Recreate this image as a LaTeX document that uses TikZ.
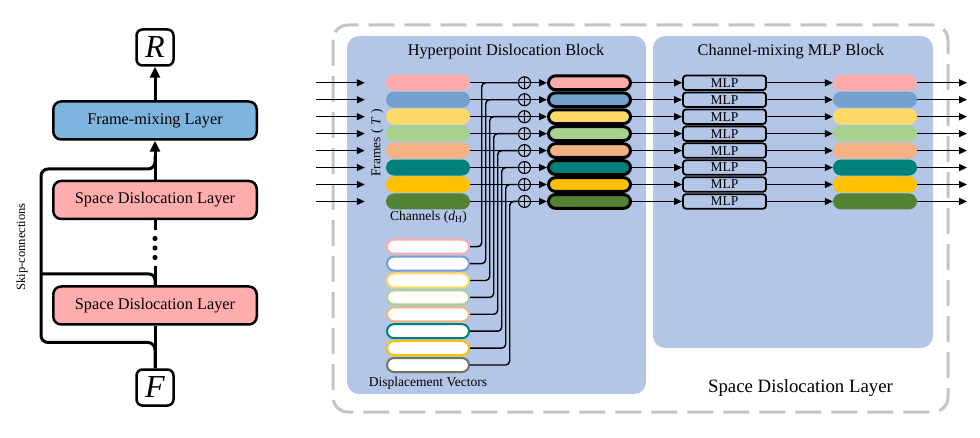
\documentclass[tikz,border=0pt]{standalone}
\usepackage{fontspec}
\setmainfont{Liberation Serif}
\usetikzlibrary{arrows.meta,calc}
\definecolor{blockfill}{HTML}{B4C6E7}
\definecolor{fmfill}{HTML}{7EB5DE}
\definecolor{sdlfill}{HTML}{FFADAD}
\definecolor{dashgray}{HTML}{C4C4C4}
\definecolor{cA}{HTML}{FFABAB}
\definecolor{cB}{HTML}{74A0CD}
\definecolor{cC}{HTML}{FFD966}
\definecolor{cD}{HTML}{A9D18E}
\definecolor{cE}{HTML}{F4B183}
\definecolor{cF}{HTML}{00807A}
\definecolor{cG}{HTML}{FFC000}
\definecolor{cH}{HTML}{548235}
\definecolor{dH}{HTML}{6B7757}
\tikzset{
  mainfont/.style={font=\fontsize{16.3}{19}\selectfont},
  smallfont/.style={font=\fontsize{13.5}{16}\selectfont},
  thickline/.style={line width=3pt},
  bigarrow/.style={line width=3pt,-{Triangle[length=11pt,width=10pt]}},
  rowline/.style={line width=1.4pt},
  rowarrow/.style={line width=1.4pt,-{Triangle[length=8pt,width=7pt]}},
  layerbox/.style={draw,line width=2.5pt,rounded corners=8pt,minimum width=203.5pt,minimum height=38pt,inner sep=0pt,mainfont},
  letterbox/.style={draw,line width=2.5pt,rounded corners=6pt,minimum width=37pt,minimum height=36pt,inner sep=0pt,font=\fontsize{32}{34}\selectfont\itshape},
  bar/.style={rectangle,rounded corners=8pt,minimum width=84pt,minimum height=16pt,inner sep=0pt},
  dbar/.style={rectangle,draw,fill=white,line width=2pt,rounded corners=7pt,minimum width=82pt,minimum height=14pt,inner sep=0pt},
  obar/.style={rectangle,draw=black,line width=3pt,rounded corners=7pt,minimum width=82pt,minimum height=13.8pt,inner sep=0pt},
  mlpbox/.style={rectangle,draw,line width=1.8pt,rounded corners=3pt,minimum width=83pt,minimum height=14.5pt,inner sep=0pt,smallfont},
  plus/.style={circle,draw,line width=1.1pt,minimum size=12pt,inner sep=0pt,
    path picture={\draw[line width=1.1pt] (path picture bounding box.north) -- (path picture bounding box.south)
      (path picture bounding box.west) -- (path picture bounding box.east);}},
}
\begin{document}
\begin{tikzpicture}[x=1pt,y=-1pt]
\useasboundingbox (0,0) rectangle (980,438);

% ---------------- left part ----------------
\node[letterbox] (R) at (155,47.5) {R};
\node[layerbox,fill=fmfill] (fml) at (155,120.5) {Frame-mixing Layer};
\node[layerbox,fill=sdlfill] (sdl2) at (155,200) {Space Dislocation Layer};
\node[layerbox,fill=sdlfill] (sdl1) at (155,305.5) {Space Dislocation Layer};
\node[letterbox] (F) at (155,387.5) {F};

\draw[thickline] (F.north) -- (sdl1.south);
\draw[thickline] (sdl1.north) -- ++(0,-19);
\draw[thickline] (sdl2.south) -- ++(0,10);
\fill (155,238.5) circle (2.6) (155,248) circle (2.6) (155,257.5) circle (2.6);
\draw[bigarrow] (sdl2.north) -- (fml.south);
\draw[bigarrow] (fml.north) -- (R.south);

\coordinate (skB) at (41,342.5);
\coordinate (skT) at (41,169);
\coordinate (skM) at (41,274);
\draw[thickline,rounded corners=7pt] (F.north) |- (skB) -- (skT) -| ($(sdl2.north)+(0,-24)$);
\draw[thickline,rounded corners=6pt] (skM) -| (sdl1.north);
\node[font=\fontsize{12.6}{15}\selectfont,rotate=90] (skiplbl) at (22,247) {Skip-connections};

% ---------------- right part ----------------
\draw[dashgray,line width=3pt,rounded corners=15pt,dash pattern=on 26pt off 10pt] (333,25) rectangle (948,412);
\fill[blockfill,rounded corners=12pt] (347,36) rectangle (646,394);
\fill[blockfill,rounded corners=12pt] (653,36) rectangle (933,348);

\node[mainfont] (hdbt) at (506,52) {Hyperpoint Dislocation Block};
\node[mainfont] (cmbt) at (791,52) {Channel-mixing MLP Block};
\node[font=\fontsize{18.8}{22}\selectfont] (sdlt) at (800.5,388) {Space Dislocation Layer};
\node[smallfont,rotate=90] (frl) at (377,143) {Frames ( \textit{T} )};
\node[smallfont] (chl) at (428.5,217) {Channels (\textit{d}\textsubscript{H})};
\node[smallfont] (dvl) at (428,383) {Displacement Vectors};

\foreach \i/\c/\dc in {1/cA/cA,2/cB/cB,3/cC/cC,4/cD/cD,5/cE/cE,6/cF/cF,7/cG/cG,8/cH/dH}{
  \pgfmathsetmacro{\yr}{82.8+16.95*(\i-1)}
  \pgfmathsetmacro{\yd}{246.7+16.9*(\i-1)}
  \pgfmathsetmacro{\xv}{481.7+4*(\i-1)}
  \coordinate (in\i) at (316,\yr);
  \coordinate (out\i) at (967,\yr);
  \coordinate (v\i) at (\xv,\yd);
  \node[bar,fill=\c] (a\i) at (428,\yr) {};
  \node[dbar,draw=\dc] (d\i) at (428,\yd) {};
  \node[plus] (p\i) at (524.5,\yr) {};
  \node[obar,fill=\c] (b\i) at (589.5,\yr) {};
  \node[mlpbox] (m\i) at (724.5,\yr) {MLP};
  \node[bar,fill=\c] (c\i) at (875,\yr) {};
  \draw[rowarrow,shorten >=21pt] (in\i) -- (a\i.west);
  \draw[rowline] (a\i.east) -- (p\i.west);
  \draw[rowline,rounded corners=4pt] (d\i.east) -| (v\i |- p\i.west) -- (p\i.west);
  \draw[rowarrow] (p\i.east) -- (b\i.west);
  \draw[rowarrow] (b\i.east) -- (m\i.west);
  \draw[rowarrow] (m\i.east) -- (c\i.west);
  \draw[rowarrow] (c\i.east) -- (out\i);
}
\end{tikzpicture}
\end{document}
